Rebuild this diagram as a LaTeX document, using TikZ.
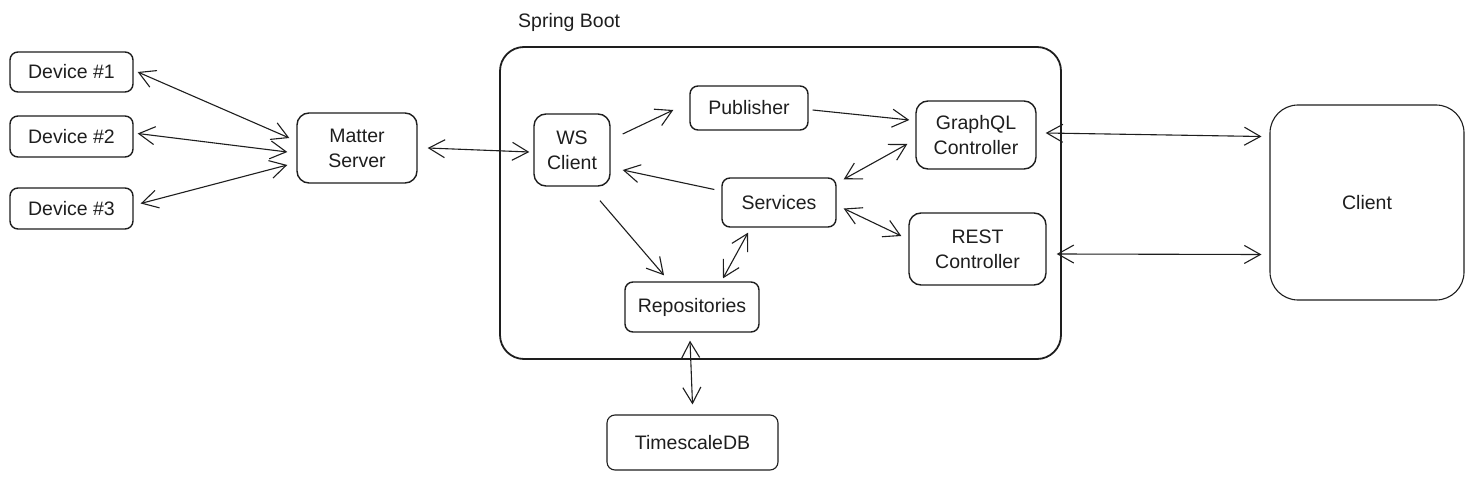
\documentclass[tikz,border=0pt]{standalone}
\usepackage{fontspec}
\setmainfont{Liberation Sans}
\usetikzlibrary{arrows.meta}
\definecolor{ink}{HTML}{1E1E1E}
\tikzset{
  box/.style={draw=ink, line width=1.4pt, rounded corners=8pt, align=center, text=ink,
    font=\fontsize{19.5}{25}\selectfont, inner sep=0pt},
  conn/.style={draw=ink, line width=1.1pt},
  both/.style={conn, {Straight Barb[length=16pt,width=18pt,line width=1.1pt]}-{Straight Barb[length=16pt,width=18pt,line width=1.1pt]}},
  one/.style={conn, -{Straight Barb[length=16pt,width=18pt,line width=1.1pt]}},
}
\begin{document}
\begin{tikzpicture}[x=1pt,y=-1pt]
\useasboundingbox (0,0) rectangle (1474,481);
\fill[white] (0,0) rectangle (1474,481);

% container
\node[draw=ink, line width=1.8pt, rounded corners=24pt, minimum width=561pt, minimum height=312pt, inner sep=0pt] (sb) at (780.5,203) {};
\node[text=ink, font=\fontsize{19.5}{22}\selectfont, anchor=base west, inner sep=0pt] (sbl) at (518,28) {Spring Boot};

% left nodes
\node[box, minimum width=123pt, minimum height=40pt] (d1) at (71.5,72) {Device \#1};
\node[box, minimum width=123pt, minimum height=41pt] (d2) at (71.5,136.5) {Device \#2};
\node[box, minimum width=123pt, minimum height=41pt] (d3) at (71.5,208.5) {Device \#3};
\node[box, minimum width=120pt, minimum height=70pt, rounded corners=12pt] (ms) at (357,148) {Matter\\Server};

% inside spring boot
\node[box, minimum width=76pt, minimum height=72pt, rounded corners=12pt] (ws) at (572,150) {WS\\Client};
\node[box, minimum width=118pt, minimum height=44pt] (pub) at (749,108) {Publisher};
\node[box, minimum width=120pt, minimum height=68pt, rounded corners=12pt] (gql) at (976,135) {GraphQL\\Controller};
\node[box, minimum width=114pt, minimum height=49pt] (svc) at (779,202.5) {Services};
\node[box, minimum width=137pt, minimum height=72pt, rounded corners=12pt] (rest) at (977.5,249) {REST\\Controller};
\node[box, minimum width=134pt, minimum height=50pt] (repo) at (692,307) {Repositories};

% outside
\node[box, minimum width=171pt, minimum height=55pt, line width=1.1pt] (db) at (692.5,442.5) {TimescaleDB};
\node[box, minimum width=194pt, minimum height=195pt, rounded corners=28pt, line width=1.1pt] (cl) at (1367,202.5) {Client};

% connectors
\draw[both] ([xshift=4pt]d1.east) -- ([xshift=-7pt,yshift=10pt]ms.west);
\draw[both] ([xshift=4pt,yshift=3pt]d2.east) -- ([xshift=-9pt,yshift=-4pt]ms.west);
\draw[both] ([xshift=7pt,yshift=5pt]d3.east) -- ([xshift=-9pt,yshift=-17pt]ms.west);
\draw[both] ([xshift=10pt]ms.east) -- ([xshift=-4pt,yshift=-2pt]ws.west);

\draw[one] ([xshift=12pt,yshift=16pt]ws.east) -- ([xshift=-16pt,yshift=-2pt]pub.west);
\draw[one] ([xshift=4pt,yshift=-2pt]pub.east) -- ([xshift=-6pt,yshift=15pt]gql.west);
\draw[both] ([xshift=-8pt,yshift=-9pt]gql.west) -- ([xshift=7pt,yshift=-2pt]svc.north east);
\draw[one] ([xshift=-7pt,yshift=13pt]svc.west) -- ([xshift=12pt,yshift=-20pt]ws.east);
\draw[both] ([xshift=7pt,yshift=-6pt]svc.east) -- ([xshift=-7pt,yshift=13pt]rest.west);
\draw[one] ([xshift=28pt,yshift=-14pt]ws.south) -- ([xshift=-28pt,yshift=6pt]repo.north);
\draw[both] ([xshift=31pt,yshift=3pt]repo.north) -- ([xshift=-31pt,yshift=-5pt]svc.south);
\draw[both] ([xshift=-2pt,yshift=-8pt]repo.south) -- ([yshift=10pt]db.north);

\draw[both] ([xshift=9pt,yshift=2pt]gql.east) -- ([xshift=-8pt,yshift=66pt]cl.west);
\draw[both] ([xshift=10pt,yshift=-5pt]rest.east) -- ([xshift=-8pt,yshift=-52pt]cl.west);
\end{tikzpicture}
\end{document}
